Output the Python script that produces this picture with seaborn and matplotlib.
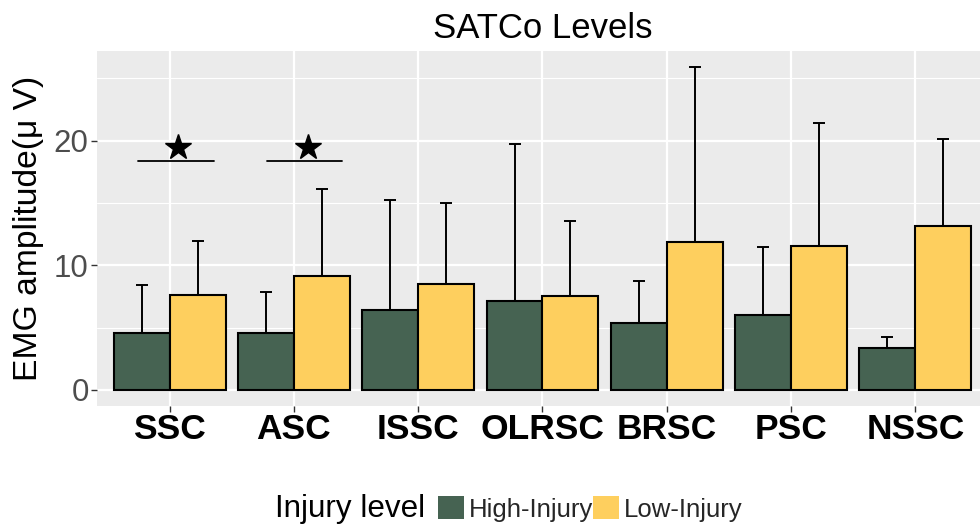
import matplotlib
matplotlib.use("Agg")
import matplotlib.pyplot as plt
import matplotlib.patches as mpatches
import numpy as np
import pandas as pd
import seaborn as sns

# valeurs
muscles = ["SSC", "ASC", "ISSC", "OLRSC", "BRSC", "PSC", "NSSC"]
groups = ["High-Injury", "Low-Injury"]
mean_high = [4.6, 4.55, 6.4, 7.15, 5.33, 5.97, 3.32]
mean_low = [7.58, 9.16, 8.49, 7.55, 11.89, 11.57, 13.12]
sd_high = [3.83, 3.3, 8.8, 12.58, 3.37, 5.49, 0.88]
sd_low = [4.36, 6.93, 6.48, 5.97, 14.01, 9.85, 6.98]

# lignes de significativite (categorie, debut, fin, position etoile)
sig_marks = [(0, -0.256, 0.36, 0.066), (1, -0.216, 0.39, 0.11)]
sig_y = 18.4
star_y = 19.5

colors = {"High-Injury": "#466352", "Low-Injury": "#FECF5E"}

df = pd.DataFrame({
    "Muscle": muscles * 2,
    "Group": [groups[0]] * len(muscles) + [groups[1]] * len(muscles),
    "Mean": mean_high + mean_low,
    "SD": sd_high + sd_low,
})

sns.set_theme(style="white")
plt.rcParams["font.family"] = ["Liberation Sans", "DejaVu Sans"]

fig = plt.figure(figsize=(9.8, 5.31), dpi=100)
ax = fig.add_axes([97 / 980, 1 - 406 / 531, 1 - 97 / 980, (406 - 51) / 531])
ax.set_facecolor("#EBEBEB")

sns.barplot(data=df, x="Muscle", y="Mean", hue="Group", order=muscles,
            hue_order=groups, palette=colors, errorbar=None, width=0.9,
            saturation=1, edgecolor="black", linewidth=1.5, ax=ax,
            zorder=3, legend=False)

# barres d'erreur (seulement vers le haut)
for container, g in zip(ax.containers, groups):
    sub = df[df["Group"] == g].set_index("Muscle").loc[muscles]
    xs = [p.get_x() + p.get_width() / 2 for p in container]
    ys = [p.get_height() for p in container]
    err = np.vstack([np.zeros(len(xs)), sub["SD"].values])
    ax.errorbar(xs, ys, yerr=err, fmt="none", ecolor="black",
                elinewidth=1.4, capsize=4, capthick=1.4, zorder=2)

for cat, x0, x1, xs in sig_marks:
    ax.plot([cat + x0, cat + x1], [sig_y, sig_y], color="black", lw=1.3, zorder=4)
    ax.plot(cat + xs, star_y, marker="*", color="black", markersize=19, zorder=4)

ax.set_xlim(-0.584, 6.52)
ax.set_ylim(-1.3, 27.2)
ax.set_yticks([0, 10, 20])
ax.set_yticks([5, 15, 25], minor=True)
ax.grid(True, which="major", color="white", lw=1.6, zorder=0)
ax.grid(True, which="minor", axis="y", color="white", lw=0.8, zorder=0)
ax.set_axisbelow(True)
for s in ax.spines.values():
    s.set_visible(False)

ax.tick_params(axis="y", which="major", left=True, length=4, width=1,
               color="#333333", labelsize=22.5, labelcolor="#4D4D4D", pad=2)
ax.tick_params(axis="y", which="minor", left=False)
ax.tick_params(axis="x", bottom=True, length=4, width=1, color="#333333",
               labelsize=25.5, labelcolor="black", pad=1)
for lab in ax.get_xticklabels():
    lab.set_fontweight("bold")

ax.set_xlabel("")
ax.set_ylabel("")
fig.text(28.5 / 980, 1 - 228 / 531, "EMG amplitude(μ V)", rotation=90,
         ha="center", va="center", fontsize=24.2, color="black")
fig.text(542.5 / 980, 1 - 38 / 531, "SATCo Levels", ha="center",
         va="baseline", fontsize=25, color="black")

# legende en bas
fig.text(275 / 980, 1 - 509 / 531, "Injury level", ha="left", va="center",
         fontsize=22.6, color="black")
handles = [mpatches.Patch(facecolor=colors[g], edgecolor="none", label=g)
           for g in groups]
fig.legend(handles=handles, loc="center left",
           bbox_to_anchor=(438 / 980, 1 - 509 / 531), ncol=2, frameon=False,
           fontsize=18.5, handlelength=1.0, handleheight=1.0,
           handletextpad=0.2, columnspacing=0.0, borderpad=0,
           borderaxespad=0)

fig.savefig("out.png", dpi=100)
plt.close(fig)
